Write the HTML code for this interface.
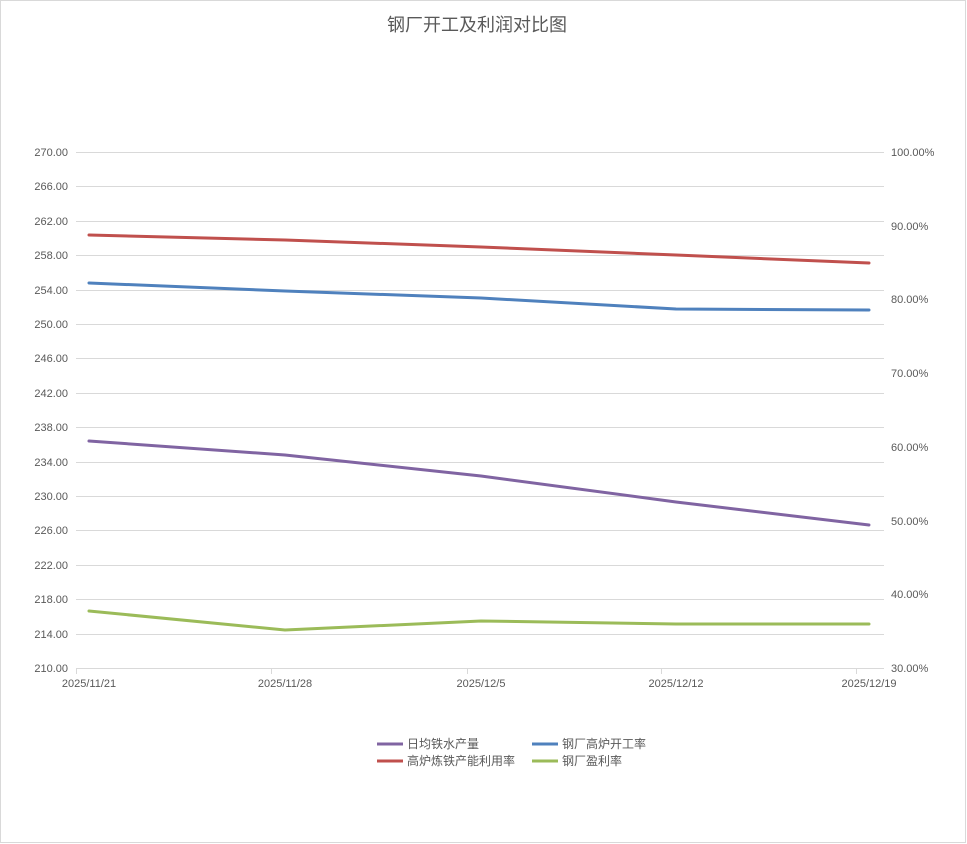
<!DOCTYPE html>
<html><head><meta charset="utf-8"><style>
body{margin:0;background:#fff;}
svg{display:block;font-family:"Liberation Sans","Noto Sans CJK SC",sans-serif;}
</style></head><body>
<svg width="967" height="844" xmlns="http://www.w3.org/2000/svg">
<rect x="0.5" y="0.5" width="965" height="842" fill="#fff" stroke="#d9d9d9"/>
<text x="477" y="31" font-size="18" fill="#595959" text-anchor="middle">钢厂开工及利润对比图</text>
<g stroke="#d9d9d9" stroke-width="1">
<line x1="76" x2="884" y1="152.5" y2="152.5"/><line x1="76" x2="884" y1="186.5" y2="186.5"/>
<line x1="76" x2="884" y1="221.5" y2="221.5"/><line x1="76" x2="884" y1="255.5" y2="255.5"/>
<line x1="76" x2="884" y1="290.5" y2="290.5"/><line x1="76" x2="884" y1="324.5" y2="324.5"/>
<line x1="76" x2="884" y1="358.5" y2="358.5"/><line x1="76" x2="884" y1="393.5" y2="393.5"/>
<line x1="76" x2="884" y1="427.5" y2="427.5"/><line x1="76" x2="884" y1="462.5" y2="462.5"/>
<line x1="76" x2="884" y1="496.5" y2="496.5"/><line x1="76" x2="884" y1="530.5" y2="530.5"/>
<line x1="76" x2="884" y1="565.5" y2="565.5"/><line x1="76" x2="884" y1="599.5" y2="599.5"/>
<line x1="76" x2="884" y1="634.5" y2="634.5"/><line x1="76" x2="884" y1="668.5" y2="668.5"/>
<line x1="76.5" x2="76.5" y1="668" y2="674"/><line x1="271.5" x2="271.5" y1="668" y2="674"/>
<line x1="467.5" x2="467.5" y1="668" y2="674"/><line x1="661.5" x2="661.5" y1="668" y2="674"/>
<line x1="856.5" x2="856.5" y1="668" y2="674"/>
</g>
<g font-size="11" fill="#595959" text-anchor="end">
<text x="68" y="156">270.00</text><text x="68" y="190">266.00</text><text x="68" y="225">262.00</text>
<text x="68" y="259">258.00</text><text x="68" y="294">254.00</text><text x="68" y="328">250.00</text>
<text x="68" y="362">246.00</text><text x="68" y="397">242.00</text><text x="68" y="431">238.00</text>
<text x="68" y="466">234.00</text><text x="68" y="500">230.00</text><text x="68" y="534">226.00</text>
<text x="68" y="569">222.00</text><text x="68" y="603">218.00</text><text x="68" y="638">214.00</text>
<text x="68" y="672">210.00</text>
</g>
<g font-size="11" fill="#595959">
<text x="891" y="156">100.00%</text><text x="891" y="230">90.00%</text><text x="891" y="303">80.00%</text>
<text x="891" y="377">70.00%</text><text x="891" y="451">60.00%</text><text x="891" y="525">50.00%</text>
<text x="891" y="598">40.00%</text><text x="891" y="672">30.00%</text>
</g>
<g font-size="11" fill="#595959" text-anchor="middle">
<text x="89" y="687">2025/11/21</text><text x="285" y="687">2025/11/28</text>
<text x="481" y="687">2025/12/5</text><text x="676" y="687">2025/12/12</text>
<text x="869" y="687">2025/12/19</text>
</g>
<g fill="none" stroke-width="3" stroke-linejoin="round" stroke-linecap="round">
<polyline stroke="#c0504d" points="89,235 285,240 481,247 676,255 869,263"/>
<polyline stroke="#4f81bd" points="89,283 285,291 481,298 676,309 869,310"/>
<polyline stroke="#8064a2" points="89,441 285,455 481,476 676,502 869,525"/>
<polyline stroke="#9bbb59" points="89,611 285,630 481,621 676,624 869,624"/>
</g>
<g stroke-width="3">
<line x1="377" x2="403" y1="744" y2="744" stroke="#8064a2"/>
<line x1="532" x2="558" y1="744" y2="744" stroke="#4f81bd"/>
<line x1="377" x2="403" y1="761" y2="761" stroke="#c0504d"/>
<line x1="532" x2="558" y1="761" y2="761" stroke="#9bbb59"/>
</g>
<g font-size="12" fill="#595959">
<text x="407" y="748">日均铁水产量</text><text x="562" y="748">钢厂高炉开工率</text>
<text x="407" y="765">高炉炼铁产能利用率</text><text x="562" y="765">钢厂盈利率</text>
</g>
</svg>
</body></html>
